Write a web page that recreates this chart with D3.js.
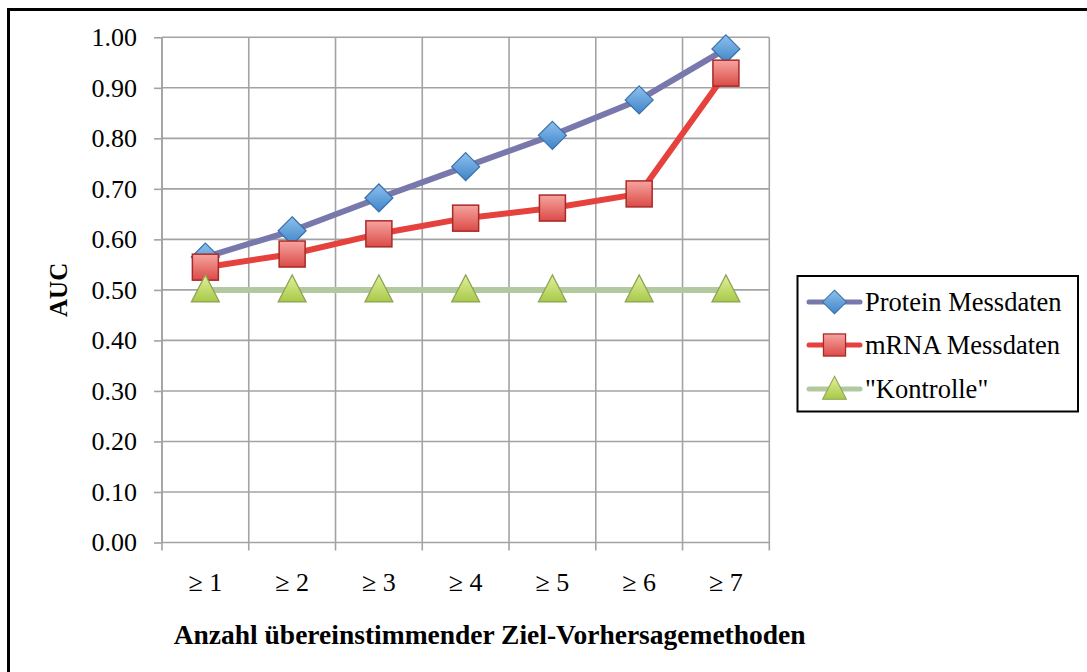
<!DOCTYPE html>
<html>
<head>
<meta charset="utf-8">
<script src="https://cdn.jsdelivr.net/npm/d3@7"></script>
<style>
  body { margin: 0; background: #fff; }
  svg { display: block; }
  text { font-family: "Liberation Serif", "DejaVu Serif", serif; fill: #000; }
</style>
</head>
<body>
<div id="chart"></div>
<script>
// data
const categories = ["≥ 1", "≥ 2", "≥ 3", "≥ 4", "≥ 5", "≥ 6", "≥ 7"];
const proteinValues = [0.565, 0.617, 0.682, 0.744, 0.806, 0.876, 0.977];
const mrnaValues = [0.545, 0.571, 0.611, 0.642, 0.662, 0.690, 0.929];
const kontrolleValues = [0.5, 0.5, 0.5, 0.5, 0.5, 0.5, 0.5];
const yTicks = [0, 0.1, 0.2, 0.3, 0.4, 0.5, 0.6, 0.7, 0.8, 0.9, 1.0];
const seriesNames = ["Protein Messdaten", "mRNA Messdaten", "\"Kontrolle\""];

const width = 1087, height = 672;
const margin = { top: 37.3, right: 317.7, bottom: 129.5, left: 162 };

const svg = d3.select("#chart")
  .append("svg")
  .attr("width", width)
  .attr("height", height);

// gradients for the shiny markers
const defs = svg.append("defs");
function grad(id, c1, c2) {
  const g = defs.append("linearGradient").attr("id", id)
    .attr("x1", "0").attr("y1", "0").attr("x2", "0").attr("y2", "1");
  g.append("stop").attr("offset", "0%").attr("stop-color", c1);
  g.append("stop").attr("offset", "100%").attr("stop-color", c2);
}
grad("gBlue", "#8DC1EE", "#3F84C8");
grad("gRed", "#F6A4A0", "#DB4B47");
grad("gGreen", "#E2F09A", "#A8C94A");

// outer frame (right and bottom edges are cut off in the picture)
svg.append("rect")
  .attr("x", 8.5).attr("y", 9.5)
  .attr("width", width + 20).attr("height", height + 20)
  .attr("fill", "none").attr("stroke", "#000").attr("stroke-width", 3);

// scales
const xScale = d3.scaleBand()
  .domain(categories)
  .range([margin.left, width - margin.right])
  .padding(0);

const yScale = d3.scaleLinear()
  .domain([0, 1])
  .range([height - margin.bottom, margin.top]);

const xMid = (c) => xScale(c) + xScale.bandwidth() / 2;
const xEdges = categories.map((c) => xScale(c)).concat([xScale.range()[1]]);

// gridlines
const grid = svg.append("g").attr("stroke", "#A3A3A3").attr("stroke-width", 1.6);
grid.selectAll(".h")
  .data(yTicks)
  .enter().append("line")
  .attr("x1", margin.left).attr("x2", xScale.range()[1])
  .attr("y1", (d) => yScale(d)).attr("y2", (d) => yScale(d));
grid.selectAll(".v")
  .data(xEdges)
  .enter().append("line")
  .attr("x1", (d) => d).attr("x2", (d) => d)
  .attr("y1", yScale(1)).attr("y2", yScale(0) + 8);

// y axis
svg.append("g")
  .attr("transform", `translate(${margin.left},0)`)
  .call(d3.axisLeft(yScale).tickValues(yTicks).tickFormat(d3.format(".2f"))
    .tickSize(8).tickPadding(17))
  .call((g) => g.selectAll("line, path").attr("stroke", "#A3A3A3").attr("stroke-width", 1.6))
  .call((g) => g.select(".domain").attr("d", `M-0,${yScale(0)}V${yScale(1)}`))
  .selectAll("text")
  .attr("font-family", "Liberation Serif")
  .attr("font-size", 26);

// x axis labels
svg.append("g")
  .attr("transform", `translate(0,${yScale(0)})`)
  .call(d3.axisBottom(xScale).tickSize(0).tickPadding(30))
  .call((g) => g.select(".domain").remove())
  .selectAll("text")
  .attr("font-family", "Liberation Serif")
  .attr("font-size", 26);

// axis titles
svg.append("text")
  .attr("x", (margin.left + xScale.range()[1]) / 2 + 24)
  .attr("y", 644)
  .attr("text-anchor", "middle")
  .attr("font-weight", "bold")
  .attr("font-size", 27.5)
  .text("Anzahl übereinstimmender Ziel-Vorhersagemethoden");

svg.append("text")
  .attr("transform", `translate(67,${(yScale(0) + yScale(1)) / 2}) rotate(-90)`)
  .attr("text-anchor", "middle")
  .attr("font-weight", "bold")
  .attr("font-size", 25)
  .text("AUC");

// marker drawing helpers
function diamond(sel) {
  sel.append("path").attr("d", "M0,-14L14,0L0,14L-14,0Z")
    .attr("fill", "url(#gBlue)").attr("stroke", "#3A6FA8").attr("stroke-width", 1.2);
}
function square(sel) {
  sel.append("rect").attr("x", -13).attr("y", -13).attr("width", 26).attr("height", 26)
    .attr("fill", "url(#gRed)").attr("stroke", "#A82A27").attr("stroke-width", 1.5);
}
function triangle(sel) {
  sel.append("path").attr("d", "M0,-15L14,12L-14,12Z")
    .attr("fill", "url(#gGreen)").attr("stroke", "#8BA352").attr("stroke-width", 1.2);
}

const series = [
  { name: seriesNames[0], values: proteinValues, color: "#7878AC", marker: diamond },
  { name: seriesNames[1], values: mrnaValues, color: "#E5413D", marker: square },
  { name: seriesNames[2], values: kontrolleValues, color: "#B2C9A0", marker: triangle }
];

const line = d3.line()
  .x((d, i) => xMid(categories[i]))
  .y((d) => yScale(d));

// draw lines back to front: Kontrolle, mRNA, Protein (matches overlap in picture)
series.slice().reverse().forEach((s) => {
  svg.append("path")
    .datum(s.values)
    .attr("fill", "none")
    .attr("stroke", s.color)
    .attr("stroke-width", 6)
    .attr("stroke-linejoin", "round")
    .attr("d", line);
});

// markers: protein drawn first so squares sit on top of diamonds
series.forEach((s) => {
  svg.append("g").selectAll("g")
    .data(s.values)
    .enter().append("g")
    .attr("transform", (d, i) => `translate(${xMid(categories[i])},${yScale(d)})`)
    .each(function () { s.marker(d3.select(this)); });
});

// legend
const legend = svg.append("g");
legend.append("rect")
  .attr("x", 797.5).attr("y", 276).attr("width", 280.5).attr("height", 135.5)
  .attr("fill", "#fff").attr("stroke", "#000").attr("stroke-width", 2);

const rowY = [302, 345, 389];
series.forEach((s, i) => {
  const row = legend.append("g").attr("transform", `translate(0,${rowY[i]})`);
  row.append("line")
    .attr("x1", 809).attr("x2", 860).attr("y1", 0).attr("y2", 0)
    .attr("stroke", s.color).attr("stroke-width", 5).attr("stroke-linecap", "round");
  const m = row.append("g").attr("transform", "translate(834.5,0) scale(0.85)");
  s.marker(m);
  row.append("text")
    .attr("x", 865).attr("y", 0).attr("dy", "0.35em")
    .attr("font-size", 26.5)
    .text(s.name);
});
</script>
</body>
</html>
